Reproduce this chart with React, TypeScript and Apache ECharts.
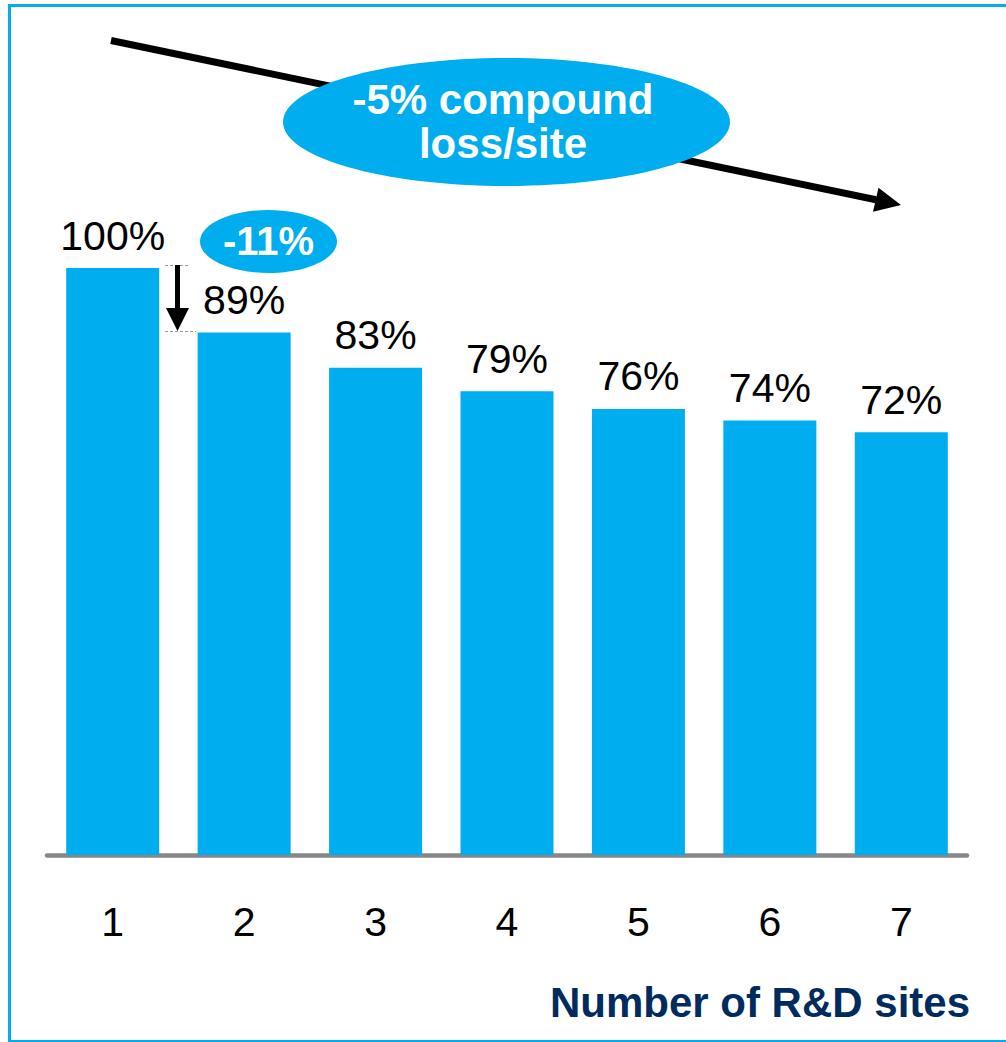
import React, { useEffect, useRef } from "react";
import * as echarts from "echarts";

const categories: string[] = ["1", "2", "3", "4", "5", "6", "7"];
const values: number[] = [100, 89, 83, 79, 76, 74, 72];
const axisTitle = "Number of R&D sites";
const trendLabel = "-5% compound\nloss/site";
const stepLabel = "-11%";

const BLUE = "#00AEEF";
const FONT = "'Liberation Sans', Arial, Helvetica, sans-serif";

export default function App() {
  const ref = useRef<HTMLDivElement>(null);
  useEffect(() => {
    document.body.style.margin = "0";
    const chart = echarts.init(ref.current!, undefined, { renderer: "svg" });
    chart.setOption({
      animation: false,
      backgroundColor: "#ffffff",
      grid: { left: 47, right: 39, top: 268, bottom: 187 },
      xAxis: {
        type: "category",
        data: categories,
        axisTick: { show: false },
        axisLine: { lineStyle: { color: "#878787", width: 4.5 } },
        axisLabel: { color: "#000", fontSize: 41, fontFamily: FONT, margin: 46 },
      },
      yAxis: { type: "value", min: 0, max: 100, show: false, splitLine: { show: false } },
      series: [
        {
          type: "bar",
          data: values,
          barWidth: 93,
          itemStyle: { color: BLUE },
          label: {
            show: true,
            position: "top",
            distance: 12,
            color: "#000",
            fontSize: 41,
            fontFamily: FONT,
            formatter: (p: any) => p.value + "%",
          },
        },
      ],
      graphic: [
        {
          type: "rect",
          silent: true,
          shape: { x: 9.5, y: 5.5, width: 1010, height: 1036 },
          style: { fill: "none", stroke: BLUE, lineWidth: 3 },
          z: 100,
        },
        {
          type: "line",
          silent: true,
          shape: { x1: 111, y1: 40.5, x2: 876, y2: 199.7 },
          style: { stroke: "#000", lineWidth: 7 },
          z: 101,
        },
        {
          type: "polygon",
          silent: true,
          shape: { points: [[901, 205], [873, 211.8], [878.5, 187.8]] },
          style: { fill: "#000" },
          z: 101,
        },
        {
          type: "ellipse",
          silent: true,
          shape: { cx: 506.5, cy: 122, rx: 223.5, ry: 64 },
          style: { fill: BLUE },
          z: 102,
        },
        {
          type: "text",
          silent: true,
          x: 503,
          y: 121,
          style: {
            text: trendLabel,
            fill: "#fff",
            font: `bold 42px ${FONT}`,
            align: "center",
            verticalAlign: "middle",
            lineHeight: 44,
          },
          z: 103,
        },
        {
          type: "ellipse",
          silent: true,
          shape: { cx: 268.5, cy: 241.5, rx: 68.5, ry: 31.5 },
          style: { fill: BLUE },
          z: 102,
        },
        {
          type: "text",
          silent: true,
          x: 268.5,
          y: 241,
          style: {
            text: stepLabel,
            fill: "#fff",
            font: `bold 40px ${FONT}`,
            align: "center",
            verticalAlign: "middle",
          },
          z: 103,
        },
        {
          type: "line",
          silent: true,
          shape: { x1: 165, y1: 265.5, x2: 188, y2: 265.5 },
          style: { stroke: "#9a9a9a", lineWidth: 1, lineDash: [3, 2] },
          z: 101,
        },
        {
          type: "line",
          silent: true,
          shape: { x1: 165, y1: 331.5, x2: 196, y2: 331.5 },
          style: { stroke: "#9a9a9a", lineWidth: 1, lineDash: [3, 2] },
          z: 101,
        },
        {
          type: "line",
          silent: true,
          shape: { x1: 177.5, y1: 265, x2: 177.5, y2: 309 },
          style: { stroke: "#000", lineWidth: 5 },
          z: 101,
        },
        {
          type: "polygon",
          silent: true,
          shape: { points: [[166, 308], [189, 308], [177.5, 331]] },
          style: { fill: "#000" },
          z: 101,
        },
        {
          type: "text",
          silent: true,
          x: 970,
          y: 1002,
          style: {
            text: axisTitle,
            fill: "#002B5E",
            font: `bold 42px ${FONT}`,
            align: "right",
            verticalAlign: "middle",
          },
          z: 103,
        },
      ],
    });
    return () => chart.dispose();
  }, []);
  return (
    <div
      ref={ref}
      style={{ position: "absolute", left: 0, top: 0, width: 1006, height: 1042 }}
    />
  );
}
